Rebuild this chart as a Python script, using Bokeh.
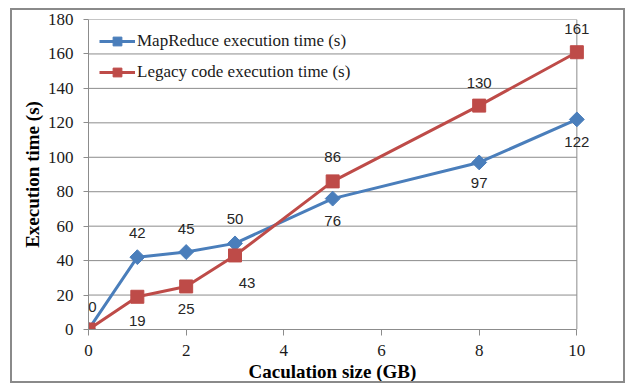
from bokeh.plotting import figure
from bokeh.models import Range1d, Legend, LegendItem, FixedTicker, ColumnDataSource, Label, Title
from bokeh.embed import file_html
from bokeh.resources import INLINE
import math

# ---- data ----
size_gb = [0, 1, 2, 3, 5, 8, 10]
mapreduce_time = [0, 42, 45, 50, 76, 97, 122]
legacy_time = [0, 19, 25, 43, 86, 130, 161]
x_ticks = [0, 2, 4, 6, 8, 10]
y_ticks = [0, 20, 40, 60, 80, 100, 120, 140, 160, 180]
series_names = ["MapReduce execution time (s)", "Legacy code execution time (s)"]
x_title = "Caculation size (GB)"
y_title = "Execution time (s)"

# ---- style ----
BLUE = "#4a7ebb"
RED = "#be4b48"
GRID = "#8c8c8c"
SERIF = "Liberation Serif"
# label placement (screen px, positive = up)
blue_dy = [23, 24, 23, 24, -22, -21, -23]
blue_dx = [4, 0, 0, 0, 0, 0, 0]
red_dy = [-24, -23, -28, 24, 23, 23]
red_dx = [0, 0, 12, 0, 0, 0]

x_lo, x_hi = x_ticks[0], x_ticks[-1]
y_lo, y_hi = y_ticks[0], y_ticks[-1]
pad = 0.3  # empty room right of the plot area so the data labels are not cut

p = figure(width=611, height=371, output_backend="svg", toolbar_location=None,
           x_range=Range1d(x_lo, x_hi + pad), y_range=Range1d(y_lo, y_hi),
           min_border_left=76, min_border_right=32, min_border_top=9, min_border_bottom=52,
           frame_width=503, frame_height=310)
p.styles = {"border": "2px solid #8a8a8a", "margin-left": "10px", "margin-top": "8px"}
p.background_fill_color = "white"
p.border_fill_color = "white"
p.outline_line_color = None

p.xgrid.grid_line_color = None
p.ygrid.grid_line_color = None

# horizontal gridlines and right border of the plot area
p.segment(x0=x_lo, x1=x_hi, y0=y_ticks, y1=y_ticks, line_color=GRID, line_width=1)
p.segment(x0=[x_hi], x1=[x_hi], y0=[y_lo], y1=[y_hi], line_color=GRID, line_width=1)

for ax in (p.xaxis[0], p.yaxis[0]):
    ax.axis_line_color = GRID
    ax.major_tick_line_color = GRID
    ax.minor_tick_line_color = None
    ax.major_tick_in = 0
    ax.major_label_text_font = SERIF
    ax.major_label_text_font_size = "17px"
    ax.major_label_text_color = "#1a1a1a"
    ax.axis_label_text_font = SERIF
    ax.axis_label_text_font_size = "19px"
    ax.axis_label_text_font_style = "bold"
    ax.axis_label_text_color = "#000000"

p.xaxis.bounds = (x_lo, x_hi)
p.xaxis.ticker = FixedTicker(ticks=x_ticks)
p.yaxis.ticker = FixedTicker(ticks=y_ticks)
p.xaxis.major_tick_out = 6
p.yaxis.major_tick_out = 5
p.xaxis.major_label_standoff = 9
p.yaxis.major_label_standoff = 10
p.yaxis.axis_label_standoff = 2
p.yaxis.axis_label = y_title

# x-axis title as a bottom title, placed to centre on the 0..10 plot area
xt = Title(text=x_title, align="left", offset=160, standoff=0,
           text_font=SERIF, text_font_size="19px", text_font_style="bold",
           text_color="#000000")
p.add_layout(xt, "below")

src_b = ColumnDataSource(dict(x=size_gb, y=mapreduce_time))
src_r = ColumnDataSource(dict(x=size_gb, y=legacy_time))

lb = p.line("x", "y", source=src_b, line_color=BLUE, line_width=3)
mb = p.scatter("x", "y", source=src_b, marker="square", angle=math.pi / 4, size=10.5,
               fill_color=BLUE, line_color=BLUE)
lr = p.line("x", "y", source=src_r, line_color=RED, line_width=3)
mr = p.scatter("x", "y", source=src_r, marker="square", size=13,
               fill_color=RED, line_color=RED)

# data labels
label_sets = [
    (size_gb, mapreduce_time, blue_dx, blue_dy),
    (size_gb[1:], legacy_time[1:], red_dx, red_dy),
]
for xs, ys, dxs, dys in label_sets:
    for xv, yv, dx, dy in zip(xs, ys, dxs, dys):
        p.add_layout(Label(x=xv, y=yv, text=str(yv), x_offset=dx, y_offset=dy,
                           text_font="Liberation Sans", text_font_size="15px",
                           text_color="#262626", text_align="center",
                           text_baseline="middle"))

legend = Legend(items=[LegendItem(label=series_names[0], renderers=[lb, mb]),
                       LegendItem(label=series_names[1], renderers=[lr, mr])],
                location="top_left")
legend.background_fill_alpha = 0
legend.border_line_alpha = 0
legend.margin = 2
legend.padding = 9
legend.glyph_width = 36
legend.glyph_height = 22
legend.label_height = 22
legend.spacing = 9
legend.label_standoff = 2
legend.label_text_font = SERIF
legend.label_text_font_size = "17px"
legend.label_text_color = "#1a1a1a"
p.add_layout(legend)

open("out.html", "w").write(file_html(p, INLINE))
